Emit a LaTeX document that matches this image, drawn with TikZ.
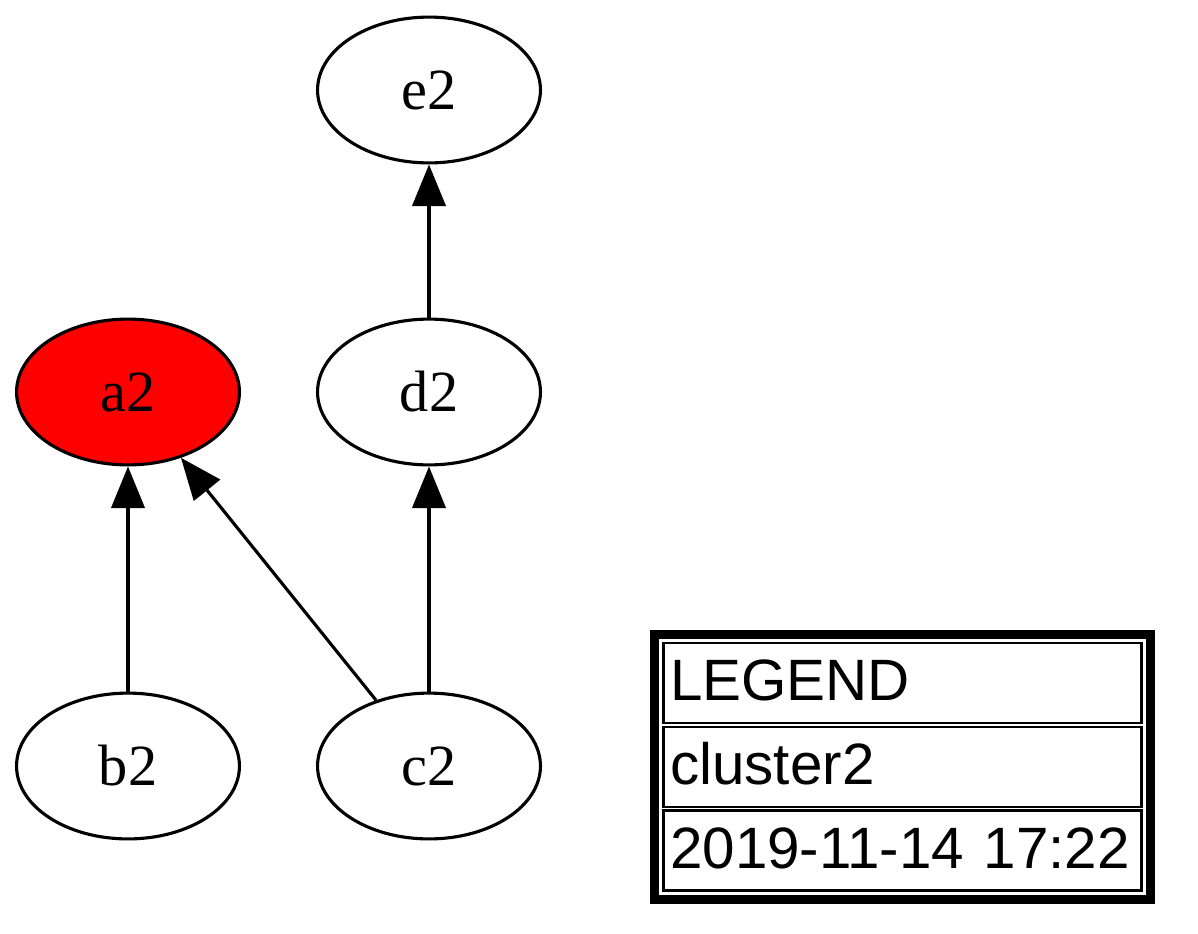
\documentclass[tikz,border=0pt]{standalone}
\usepackage{fontspec}
\setmainfont{Liberation Serif}
\newfontfamily\legendfont{Liberation Sans}
\usetikzlibrary{shapes.geometric,arrows.meta,positioning,fit}

\begin{document}
\begin{tikzpicture}
  [x=0.24pt,y=-0.24pt,line width=0.75pt,>={Triangle[length=10pt,width=8pt]},
   vertex/.style={ellipse,draw,minimum width=53.5pt,minimum height=35pt,inner sep=0pt,font=\fontsize{14}{17}\selectfont},
   legendrow/.style={rectangle,draw,line width=0.6pt,text width=111.5pt,inner xsep=1.6pt,inner ysep=0pt,minimum height=19.2pt,
     text height=11pt,text depth=2.5pt,align=left,font=\legendfont\fontsize{14}{17}\selectfont}]
  \useasboundingbox (0,0) rectangle (1198,933);

  \node[vertex] (e2) at (429,90) {e2};
  \node[vertex,fill=red] (a2) at (128,392) {a2};
  \node[vertex] (d2) at (429,392) {d2};
  \node[vertex] (b2) at (128,766) {b2};
  \node[vertex] (c2) at (429,766) {c2};

  \draw [->](b2) -- (a2);
  \draw [->](c2) -- (a2);
  \draw [->](c2) -- (d2);
  \draw [->](d2) -- (e2);

  % legend
  \node[legendrow] (lg1) at (902.5,683) {LEGEND};
  \node[legendrow,below=0.3pt of lg1] (lg2) {cluster2};
  \node[legendrow,below=0.3pt of lg2] (lg3) {2019-11-14 17:22};
  \node[draw,rectangle,line width=2.2pt,inner sep=1.8pt,fit=(lg1)(lg3)] (legend) {};
\end{tikzpicture}
\end{document}
